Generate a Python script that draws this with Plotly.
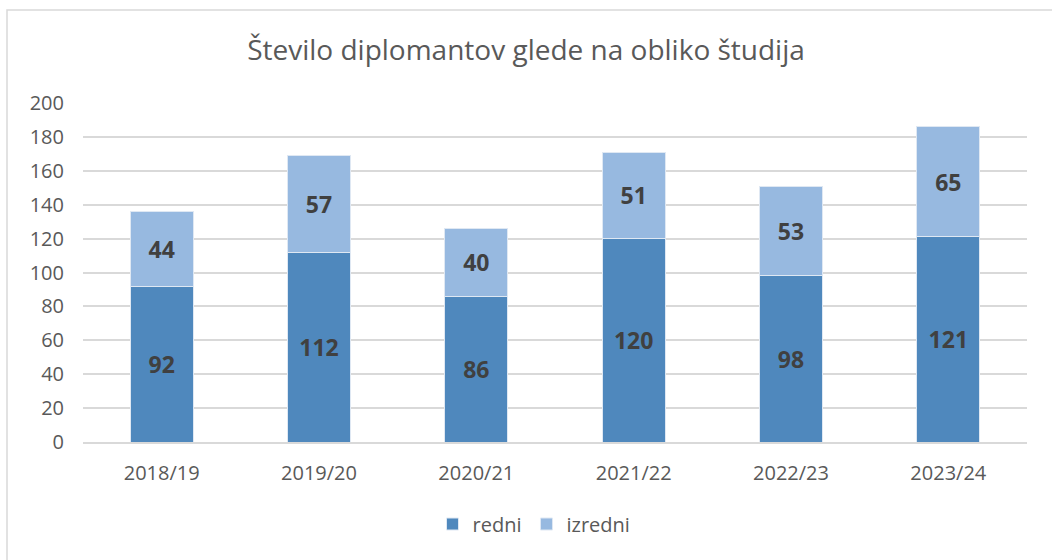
import plotly.graph_objects as go

years = ["2018/19", "2019/20", "2020/21", "2021/22", "2022/23", "2023/24"]
redni = [92, 112, 86, 120, 98, 121]
izredni = [44, 57, 40, 51, 53, 65]
tick_vals = [0, 20, 40, 60, 80, 100, 120, 140, 160, 180, 200]

W, H = 1052, 560
L, R, T, B = 83, 25, 103, 118
pw, ph = W - L - R, H - T - B
base = H - B  # pixel row of y=0

lbl_font = dict(family="Open Sans", size=23, color="#404040", weight="bold")
fig = go.Figure()
fig.add_trace(go.Bar(x=years, y=redni, name="redni", marker=dict(color="#4f88bd", line=dict(color="#dfe8f3", width=1)),
                     text=redni, textposition="inside", insidetextanchor="middle", textfont=lbl_font))
fig.add_trace(go.Bar(x=years, y=izredni, name="izredni", marker=dict(color="#97b9e0", line=dict(color="#dfe8f3", width=1)),
                     text=izredni, textposition="inside", insidetextanchor="middle", textfont=lbl_font))

fig.update_layout(
    barmode="stack", bargap=0.6,
    width=W, height=H,
    margin=dict(l=L, r=R, t=T, b=B),
    paper_bgcolor="white", plot_bgcolor="white",
    font=dict(family="Open Sans", color="#595959", size=20),
    title=dict(text="Število diplomantov glede na obliko študija", x=0.5, xanchor="center",
               y=1 - 50 / H, yanchor="middle", font=dict(size=28, color="#595959")),
    legend=dict(orientation="h", x=0.5 - 21 / pw, xanchor="center", y=(base - 524) / ph, yanchor="middle",
                font=dict(size=20, color="#595959"), traceorder="normal", itemwidth=30),
    uniformtext=dict(mode=False),
)
fig.update_yaxes(range=[0, 200], tickvals=tick_vals, showgrid=True, gridcolor="#d9d9d9", gridwidth=1.5,
                 zeroline=False, showline=False, ticks="", ticklabelstandoff=18, tickfont=dict(size=20),
                 automargin=False)
fig.update_xaxes(showline=True, linecolor="#d9d9d9", linewidth=1.5, ticks="", tickfont=dict(size=20),
                 ticklabelstandoff=12, automargin=False)

fig.add_shape(type="rect", xref="paper", yref="paper",
              x0=(7 - L) / pw, x1=(W + 10 - L) / pw,
              y0=(base - (H + 10)) / ph, y1=(base - 10) / ph,
              line=dict(color="#d9d9d9", width=1.5), fillcolor="rgba(0,0,0,0)", layer="below")

fig.write_html("out.html", config={"displayModeBar": False},
               post_script="document.body.style.margin='0';document.body.style.overflow='hidden';")
